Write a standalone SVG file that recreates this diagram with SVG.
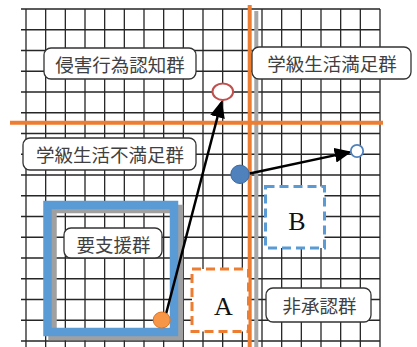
<svg xmlns="http://www.w3.org/2000/svg" width="417" height="347" viewBox="0 0 417 347">
<style>
.grid{fill:none;stroke:#262626;stroke-width:1.3}
.lbl rect{fill:#fff;stroke:#333;stroke-width:1.3}
.lbl text{font-family:"Noto Sans CJK JP","Noto Sans",sans-serif;font-size:18.5px;fill:#404040;text-anchor:middle}
.big{font-family:"Liberation Serif","Times New Roman",serif;font-size:26px;fill:#111;text-anchor:middle}
.arrow{stroke:#000;stroke-width:2.5;fill:none;marker-end:url(#ah)}
</style>
<defs>
<marker id="ah" markerUnits="userSpaceOnUse" markerWidth="17" markerHeight="15" refX="15" refY="7.5" orient="auto">
<path d="M0,0 L17,7.5 L0,15 z" fill="#000"/>
</marker>
</defs>
<rect width="417" height="347" fill="#fff"/>
<g id="grid">
<path class="grid" d="M26 9V347M45.67 9V347M65.33 9V347M85 9V347M104.67 9V347M124.33 9V347M144 9V347M163.67 9V347M183.33 9V347M203 9V347M222.67 9V347M242.33 9V347M262 9V347M281.67 9V347M301.33 9V347M321 9V347M340.67 9V347M360.33 9V347M380 9V347
M21 9H380M21 29.75H380M21 50.5H380M21 71.25H380M21 92H380M21 112.75H380M21 133.5H380M21 154.25H380M21 175H380M21 195.75H380M21 216.5H380M21 237.25H380M21 258H380M21 278.75H380M21 299.5H380M21 320.25H380M21 341H380"/>
</g>
<g id="axes">
<line x1="256.3" y1="11" x2="256.3" y2="347" stroke="#a6a6a6" stroke-width="4"/>
<line x1="10" y1="122.7" x2="383" y2="122.7" stroke="#ed7d31" stroke-width="4"/>
<line x1="249.7" y1="5" x2="249.7" y2="347" stroke="#ed7d31" stroke-width="4"/>
</g>
<g id="support-zone">
<rect x="52.5" y="209" width="126.5" height="127" fill="none" stroke="#a0a0a0" stroke-width="8.5"/>
<rect x="47.5" y="205" width="126.5" height="127" fill="none" stroke="#5b9bd5" stroke-width="8.5"/>
</g>
<g id="label-shingai" class="lbl">
<rect x="44" y="48" width="152" height="31" rx="7"/>
<text x="120" y="72">侵害行為認知群</text>
</g>
<g id="label-fumanzoku" class="lbl">
<rect x="23" y="138" width="173" height="32" rx="7"/>
<text x="110" y="162">学級生活不満足群</text>
</g>
<g id="label-manzoku" class="lbl">
<rect x="252" y="47" width="159" height="32" rx="7"/>
<text x="332" y="71">学級生活満足群</text>
</g>
<g id="label-yoshien" class="lbl">
<rect x="64" y="228" width="98" height="30" rx="7"/>
<text x="113.5" y="251.5">要支援群</text>
</g>
<g id="label-hishonin" class="lbl">
<rect x="266" y="288" width="105" height="34" rx="7"/>
<text x="319.5" y="313">非承認群</text>
</g>
<g id="box-A">
<rect x="192" y="269" width="56.5" height="62.5" fill="#fff" stroke="#ed7d31" stroke-width="3" stroke-dasharray="9 5"/>
<text class="big" x="223.5" y="315">A</text>
</g>
<g id="box-B">
<rect x="265.5" y="186.5" width="59" height="61.5" fill="#fff" stroke="#5b9bd5" stroke-width="3" stroke-dasharray="9 5"/>
<text class="big" x="297" y="230">B</text>
</g>
<g id="connectors">
<line class="arrow" x1="166" y1="314" x2="221.3" y2="102.5"/>
<line class="arrow" x1="249.7" y1="173.5" x2="349.7" y2="152.1"/>
</g>
<g id="point-red">
<ellipse cx="222.8" cy="91.7" rx="10.3" ry="8.2" fill="#fff" stroke="#c0504d" stroke-width="2"/>
</g>
<g id="point-blue-small">
<circle cx="357" cy="151" r="6.2" fill="#fff" stroke="#4f81bd" stroke-width="1.8"/>
</g>
<g id="point-blue">
<circle cx="240" cy="174.3" r="9.2" fill="#4f81bd" stroke="#3a6aa0" stroke-width="1"/>
</g>
<g id="point-orange">
<ellipse cx="161.7" cy="320" rx="8.5" ry="8" fill="#f79646" stroke="#e0751f" stroke-width="1"/>
</g>
</svg>
